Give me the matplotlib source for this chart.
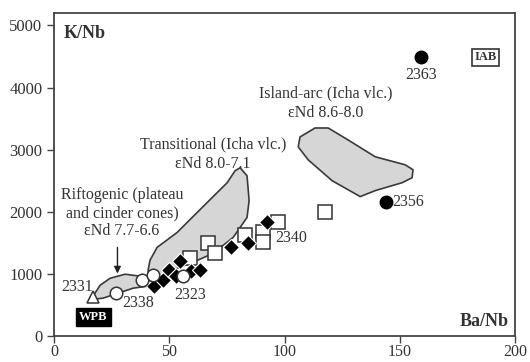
import numpy as np
import matplotlib.pyplot as plt
from matplotlib.patches import Polygon

plt.rcParams['font.family'] = ['Liberation Serif', 'DejaVu Serif']

# sample groups (Ba/Nb, K/Nb)
circ_black_x = [159, 144]
circ_black_y = [4490, 2160]
circ_black_lab = ['2363', '2356']

circ_open_x = [27, 38, 43, 56]
circ_open_y = [690, 900, 980, 960]

tri_x = [17]
tri_y = [620]

diam_x = [43.4, 47.3, 50, 53, 54.7, 59.5, 63.3, 76.8, 84.2, 92.4]
diam_y = [800, 900, 1060, 960, 1200, 1040, 1060, 1440, 1500, 1840]

sq_x = [59, 66.8, 69.8, 82.9, 90.7, 90.7, 97.2, 117.6]
sq_y = [1250, 1490, 1330, 1620, 1680, 1520, 1840, 2000]

# outlined fields
island_x = [106.7, 113.2, 118.9, 127.5, 139.3, 152.3, 155.7, 155.3, 151.0, 139.3, 132.8, 120.6, 110.2, 105.9]
island_y = [3205, 3349, 3349, 3157, 2885, 2756, 2676, 2548, 2468, 2340, 2244, 2500, 2837, 3045]

trans_x = [80.7, 83.7, 84.6, 83.7, 77.7, 69.0, 61.2, 52.5, 45.1, 40.8, 40.8, 41.6, 44.7, 53.4, 60.3, 67.7, 75.1, 78.5]
trans_y = [2708, 2580, 2179, 1907, 1587, 1330, 1202, 1074, 946, 881, 1058, 1218, 1426, 1667, 1923, 2196, 2468, 2660]

rift_x = [16.9, 20.0, 24.3, 30.8, 37.3, 40.8, 40.3, 34.3, 27.8, 21.3, 17.8]
rift_y = [641, 817, 929, 994, 962, 913, 801, 769, 689, 609, 593]

txt = '#333333'
fig = plt.figure(figsize=(5.3, 3.62), dpi=100)
ax = fig.add_axes([0.102, 0.072, 0.870, 0.892])

for px, py in [(island_x, island_y), (trans_x, trans_y), (rift_x, rift_y)]:
    ax.add_patch(Polygon(np.column_stack([px, py]), closed=True, fc='#d6d6d6',
                         ec='#3a3a3a', lw=1.2, joinstyle='round', zorder=1))

ax.plot(sq_x, sq_y, 's', ms=10, mfc='white', mec='#333333', mew=1.1, zorder=3)
ax.plot(diam_x, diam_y, 'D', ms=8.5, mfc='black', mec='white', mew=0.8, zorder=4)
ax.plot(circ_open_x, circ_open_y, 'o', ms=9, mfc='white', mec='#333333', mew=1.1, zorder=5)
ax.plot(tri_x, tri_y, '^', ms=9, mfc='white', mec='#333333', mew=1.1, zorder=5)
ax.plot(circ_black_x, circ_black_y, 'o', ms=9, mfc='black', mec='black', zorder=5)

fs = 11.5
ax.text(circ_black_x[0], circ_black_y[0] - 280, circ_black_lab[0], ha='center', va='center', fontsize=fs, color=txt)
ax.text(circ_black_x[1] + 2.5, circ_black_y[1], circ_black_lab[1], ha='left', va='center', fontsize=fs, color=txt)
ax.text(96, 1570, '2340', ha='left', va='center', fontsize=fs, color=txt)
ax.text(59, 660, '2323', ha='center', va='center', fontsize=fs, color=txt)
ax.text(36.5, 530, '2338', ha='center', va='center', fontsize=fs, color=txt)
ax.text(10, 790, '2331', ha='center', va='center', fontsize=fs, color=txt)

ax.text(118, 3750, 'Island-arc (Icha vlc.)\nεNd 8.6-8.0', ha='center', va='center',
        fontsize=fs, color=txt, linespacing=1.25)
ax.text(69, 2930, 'Transitional (Icha vlc.)\nεNd 8.0-7.1', ha='center', va='center',
        fontsize=fs, color=txt, linespacing=1.3)
ax.text(29.5, 1980, 'Riftogenic (plateau\nand cinder cones)\nεNd 7.7-6.6', ha='center', va='center',
        fontsize=fs, color=txt, linespacing=1.2)
ax.annotate('', xy=(27.5, 960), xytext=(27.5, 1470),
            arrowprops=dict(arrowstyle='-|>', color='#222222', lw=1.0, mutation_scale=10))

ax.text(17, 300, 'WPB', ha='center', va='center', fontsize=9, fontweight='bold', color='white',
        bbox=dict(boxstyle='square,pad=0.25', fc='black', ec='black'), zorder=6)
ax.text(187, 4490, 'IAB', ha='center', va='center', fontsize=9, fontweight='bold', color=txt,
        bbox=dict(boxstyle='square,pad=0.2', fc='white', ec='#333333', lw=1.2))

ax.text(4, 4870, 'K/Nb', ha='left', va='center', fontsize=13, fontweight='bold', color=txt)
ax.text(197, 230, 'Ba/Nb', ha='right', va='center', fontsize=13, fontweight='bold', color=txt)

ax.set_xlim(0, 200)
ax.set_ylim(0, 5200)
ax.set_xticks([0, 50, 100, 150, 200])
ax.set_yticks([0, 1000, 2000, 3000, 4000, 5000])
ax.tick_params(direction='out', length=5, width=1, colors='#444444', labelcolor=txt, labelsize=12)
ax.tick_params(axis='x', pad=1, labelsize=11.5)
for s in ax.spines.values():
    s.set_color('#444444')
    s.set_linewidth(1.3)

fig.savefig('out.png', dpi=100)
